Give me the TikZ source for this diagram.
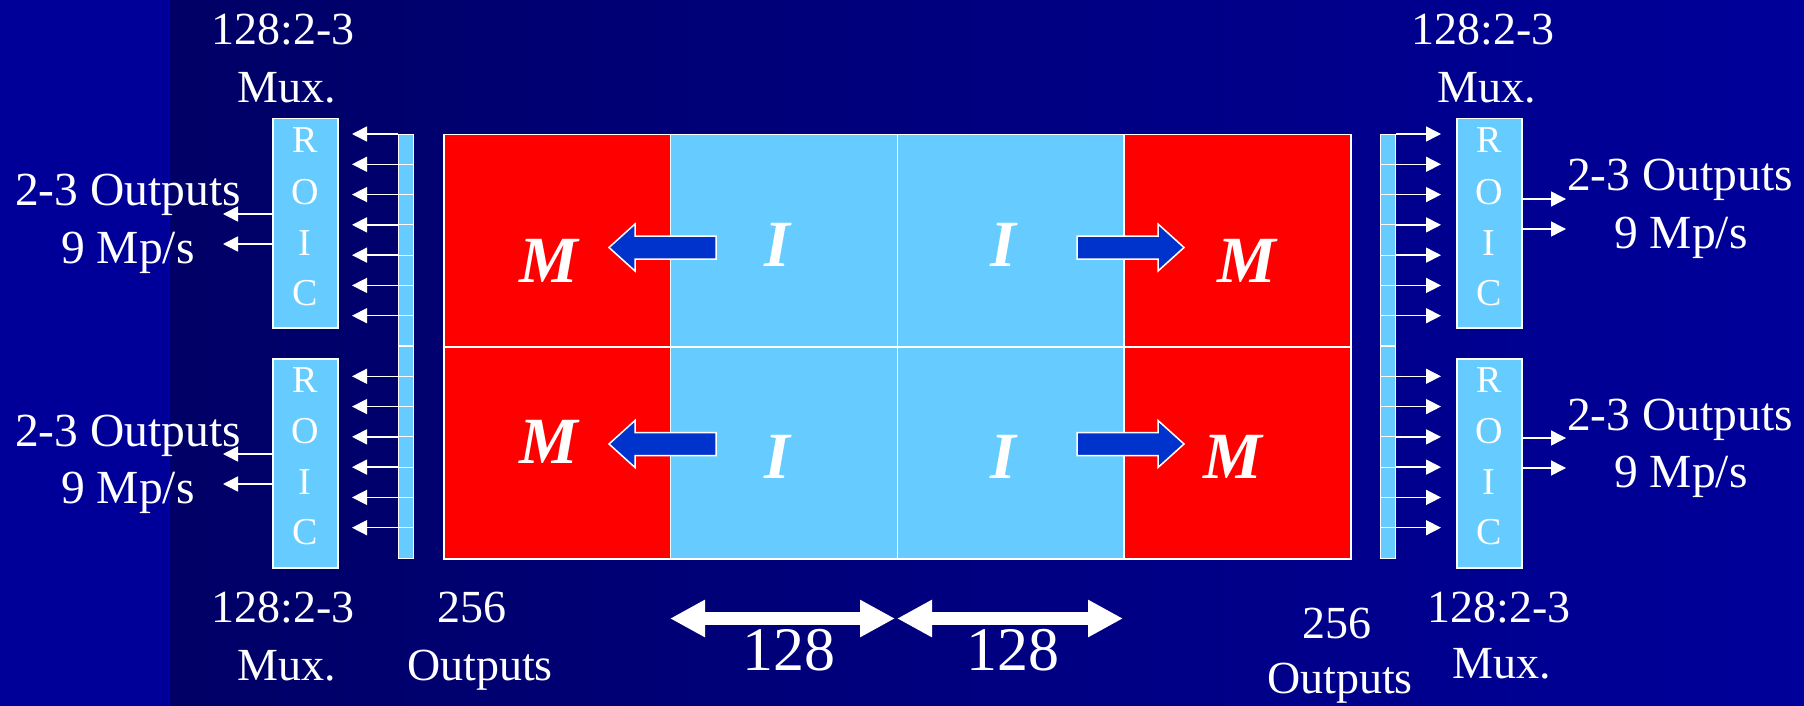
\documentclass[tikz,border=0pt]{standalone}
\usepackage{fontspec}
\setmainfont{Liberation Serif}
\usetikzlibrary{arrows.meta}
\definecolor{bgL}{HTML}{000099}
\definecolor{bgA}{HTML}{000066}
\definecolor{bgB}{HTML}{00009A}
\definecolor{bgLine}{HTML}{0000AA}
\definecolor{lblue}{HTML}{66CCFF}
\definecolor{mred}{HTML}{FF0000}
\definecolor{barrow}{HTML}{0033CC}
\begin{document}
\begin{tikzpicture}[x=1pt,y=-1pt,
  cell/.style={draw=white, line width=1.5pt, minimum width=226.75pt, minimum height=212pt, inner sep=0pt, anchor=north west},
  roic/.style={draw=white, fill=lblue, line width=1.5pt, minimum width=65pt, minimum height=209pt, inner sep=0pt, anchor=north west},
  stripbox/.style={draw=white, fill=lblue, line width=1.2pt, minimum width=15pt, minimum height=424pt, inner sep=0pt, anchor=north west},
  txt/.style={text=white, font=\fontsize{46}{50}\selectfont, anchor=base, inner sep=0pt},
  otxt/.style={text=white, font=\fontsize{47.5}{50}\selectfont, anchor=base, inner sep=0pt},
  rtxt/.style={text=white, font=\fontsize{38}{40}\selectfont, anchor=base, inner sep=0pt},
  big/.style={text=white, font=\fontsize{66}{70}\selectfont\bfseries\itshape, anchor=base, inner sep=0pt},
  num/.style={text=white, font=\fontsize{62}{66}\selectfont, anchor=base, inner sep=0pt},
  sarrow/.style={draw=white, line width=1.5pt, -{Triangle[length=15pt,width=15pt]}},
  dimarrow/.style={draw=white, line width=13pt, {Triangle[length=35pt,width=35pt]}-{Triangle[length=35pt,width=35pt]}},
  blockarrow/.pic={\draw[fill=barrow, draw=white, line width=1.5pt] (0,0) -- (26,-23.5) -- (26,-11.5) -- (107,-11.5) -- (107,11.5) -- (26,11.5) -- (26,23.5) -- cycle;}
]
\useasboundingbox (0,0) rectangle (1804,706);
% background
\fill[bgL] (0,0) rectangle (170,706);
\shade[left color=bgA, right color=bgB] (170,0) rectangle (1804,706);
\draw[bgLine, line width=2.5pt] (169,0) -- (169,706);

% main array
\node[cell, fill=mred]  (m11) at (443,134) {};
\node[cell, fill=lblue] (i12) at (669.75,134) {};
\node[cell, fill=lblue] (i13) at (896.5,134) {};
\node[cell, fill=mred]  (m14) at (1123.25,134) {};
\node[cell, fill=mred]  (m21) at (443,346) {};
\node[cell, fill=lblue] (i22) at (669.75,346) {};
\node[cell, fill=lblue] (i23) at (896.5,346) {};
\node[cell, fill=mred]  (m24) at (1123.25,346) {};

% block arrows
\pic at (609,247.5) {blockarrow};
\pic at (609,444) {blockarrow};
\pic[xscale=-1] at (1184,247.5) {blockarrow};
\pic[xscale=-1] at (1184,444) {blockarrow};

% letters
\node[big] (tM11) at (549,282) {M};
\node[big] (tI12) at (777,266) {I};
\node[big] (tI13) at (1003,266) {I};
\node[big] (tM14) at (1247,282) {M};
\node[big] (tM21) at (549,463) {M};
\node[big] (tI22) at (777,478) {I};
\node[big] (tI23) at (1003,478) {I};
\node[big] (tM24) at (1233,478) {M};

% strips
\node[stripbox] (stripL) at (397.5,134) {};
\node[stripbox] (stripR) at (1380,134) {};
\foreach \k in {1,...,13}{
  \pgfmathsetmacro\yy{134+30.2857*\k}
  \coordinate (sl\k) at (0,\yy);
  \draw[white, line width=1.2pt] (stripL.west |- sl\k) -- (stripL.east |- sl\k);
  \draw[white, line width=1.2pt] (stripR.west |- sl\k) -- (stripR.east |- sl\k);
}
\foreach \k in {0,1,2,3,4,5,6,8,9,10,11,12,13}{
  \pgfmathsetmacro\yy{134+30.2857*\k}
  \coordinate (tl\k) at (352,\yy);
  \coordinate (tr\k) at (1441,\yy);
  \draw[sarrow] (stripL.west |- tl\k) -- (tl\k);
  \draw[sarrow] (stripR.east |- tr\k) -- (tr\k);
}

% ROIC boxes
\node[roic] (roicUL) at (272,118) {};
\node[roic] (roicLL) at (272,358) {};
\node[roic] (roicUR) at (1456,118) {};
\node[roic] (roicLR) at (1456,358) {};
\foreach \b/\dy in {roicUL/0,roicLL/239,roicUR/0,roicLR/239}{
  \node[rtxt] at ([yshift=-\dy pt]\b.north |- 0,153) {R};
  \node[rtxt] at ([yshift=-\dy pt]\b.north |- 0,204) {O};
  \node[rtxt] at ([yshift=-\dy pt]\b.north |- 0,255) {I};
  \node[rtxt] at ([yshift=-\dy pt]\b.north |- 0,305) {C};
}

% output arrows
\coordinate (oUL1) at (223,214);
\coordinate (oUL2) at (223,244);
\coordinate (oLL1) at (223,454);
\coordinate (oLL2) at (223,484);
\coordinate (oUR1) at (1566,199);
\coordinate (oUR2) at (1566,229);
\coordinate (oLR1) at (1566,438);
\coordinate (oLR2) at (1566,468);
\draw[sarrow] (roicUL.west |- oUL1) -- (oUL1);
\draw[sarrow] (roicUL.west |- oUL2) -- (oUL2);
\draw[sarrow] (roicLL.west |- oLL1) -- (oLL1);
\draw[sarrow] (roicLL.west |- oLL2) -- (oLL2);
\draw[sarrow] (roicUR.east |- oUR1) -- (oUR1);
\draw[sarrow] (roicUR.east |- oUR2) -- (oUR2);
\draw[sarrow] (roicLR.east |- oLR1) -- (oLR1);
\draw[sarrow] (roicLR.east |- oLR2) -- (oLR2);

% labels
\node[txt] (muxTL1) at (283,45) {128:2-3};
\node[txt] (muxTL2) at (287,103) {Mux.};
\node[txt] (muxTR1) at (1483,45) {128:2-3};
\node[txt] (muxTR2) at (1487,103) {Mux.};
\node[otxt] (outUL1) at (128,205) {2-3 Outputs};
\node[otxt] (outUL2) at (128,263) {9 Mp/s};
\node[otxt] (outLL1) at (128,446) {2-3 Outputs};
\node[otxt] (outLL2) at (128,503) {9 Mp/s};
\node[otxt] (outUR1) at (1680,190) {2-3 Outputs};
\node[otxt] (outUR2) at (1681,248) {9 Mp/s};
\node[otxt] (outLR1) at (1680,430) {2-3 Outputs};
\node[otxt] (outLR2) at (1681,487) {9 Mp/s};
\node[txt] (muxBL1) at (283,622) {128:2-3};
\node[txt] (muxBL2) at (287,680) {Mux.};
\node[txt] (oBL1) at (472,622) {256};
\node[txt] (oBL2) at (480,680) {Outputs};
\node[txt] (muxBR1) at (1499,622) {128:2-3};
\node[txt] (muxBR2) at (1502,678) {Mux.};
\node[txt] (oBR1) at (1337,638) {256};
\node[txt] (oBR2) at (1340,693) {Outputs};

% dimension arrows
\coordinate (d1a) at (670,618.5);
\coordinate (d1b) at (895,618.5);
\coordinate (d2a) at (897,618.5);
\coordinate (d2b) at (1123,618.5);
\draw[dimarrow] (d1a) -- (d1b);
\draw[dimarrow] (d2a) -- (d2b);
\node[num] (n1) at (789,670) {128};
\node[num] (n2) at (1013,670) {128};
\end{tikzpicture}
\end{document}
